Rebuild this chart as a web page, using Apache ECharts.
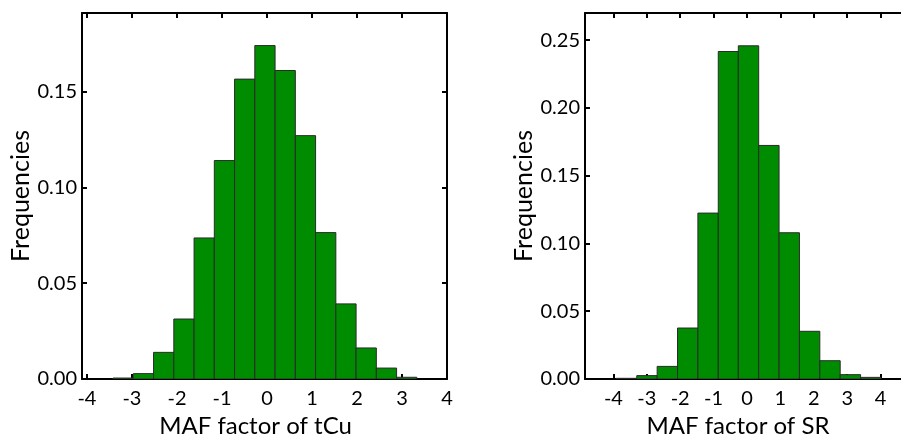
<!DOCTYPE html>
<html>
<head>
<meta charset="utf-8">
<script src="https://cdn.jsdelivr.net/npm/echarts@6/dist/echarts.min.js"></script>
<style>
  html, body { margin: 0; padding: 0; background: #fff; }
  #chart { width: 901px; height: 434px; }
</style>
</head>
<body>
<div id="chart"></div>
<script>
// Histogram of the tCu MAF factor: bin edges and relative frequencies
const tcuEdges = [-3.42, -2.97, -2.52, -2.07, -1.62, -1.17, -0.72, -0.27, 0.18, 0.63, 1.08, 1.53, 1.98, 2.43, 2.88, 3.33];
const tcuFreq = [0.0005, 0.0028, 0.0139, 0.0313, 0.0736, 0.114, 0.1565, 0.174, 0.161, 0.127, 0.0764, 0.0392, 0.0162, 0.0057, 0.0009];

// Histogram of the SR MAF factor
const srEdges = [-3.91, -3.30, -2.69, -2.08, -1.47, -0.86, -0.26, 0.35, 0.96, 1.57, 2.18, 2.79, 3.40, 4.01];
const srFreq = [0.0005, 0.0025, 0.0093, 0.0376, 0.1224, 0.2416, 0.2458, 0.1723, 0.1079, 0.0352, 0.0135, 0.0032, 0.0012];

// Axis ticks
const xTicks = [-4, -3, -2, -1, 0, 1, 2, 3, 4];
const tcuYTicks = [0, 0.05, 0.10, 0.15];
const srYTicks = [0, 0.05, 0.10, 0.15, 0.20, 0.25];

const FONT = 'Lato';
const GREEN = '#008c00';

function bins(edges, freq) {
  return freq.map((f, i) => [edges[i], edges[i + 1], f]);
}

function renderBin(params, api) {
  const a = api.coord([api.value(0), api.value(2)]);
  const b = api.coord([api.value(1), 0]);
  return {
    type: 'rect',
    shape: { x: a[0], y: a[1], width: b[0] - a[0], height: b[1] - a[1] },
    style: { fill: GREEN, stroke: '#2a2a2a', lineWidth: 1 }
  };
}

const axisLine = { show: true, onZero: false, lineStyle: { color: '#000', width: 2 } };
const tick = (vals) => ({ show: true, inside: true, length: 5, customValues: vals, lineStyle: { color: '#000', width: 2 } });

function xAxes(gridIndex, min, max, name) {
  return [
    {
      type: 'value', gridIndex, min, max, position: 'bottom',
      axisLine, axisTick: tick(xTicks), splitLine: { show: false },
      axisLabel: { customValues: xTicks, margin: 10, fontFamily: FONT, fontSize: 20, color: '#000' },
      name, nameLocation: 'middle', nameGap: 29,
      nameTextStyle: { fontFamily: FONT, fontSize: 24, color: '#000', padding: [0, 18, 0, 0] }
    },
    {
      type: 'value', gridIndex, min, max, position: 'top',
      axisLine, axisTick: tick(xTicks), splitLine: { show: false },
      axisLabel: { show: false }
    }
  ];
}

function yAxes(gridIndex, max, ticks) {
  return [
    {
      type: 'value', gridIndex, min: 0, max, position: 'left',
      axisLine, axisTick: tick(ticks), splitLine: { show: false },
      axisLabel: {
        customValues: ticks, margin: 5, fontFamily: FONT, fontSize: 20, color: '#000',
        formatter: (v) => v.toFixed(2)
      },
      name: 'Frequencies', nameLocation: 'middle', nameGap: 47,
      nameTextStyle: { fontFamily: FONT, fontSize: 25, color: '#000' }
    },
    {
      type: 'value', gridIndex, min: 0, max, position: 'right',
      axisLine, axisTick: tick(ticks), splitLine: { show: false },
      axisLabel: { show: false }
    }
  ];
}

const chart = echarts.init(document.getElementById('chart'), null, { renderer: 'canvas' });
chart.setOption({
  backgroundColor: '#fff',
  animation: false,
  grid: [
    { left: 82, top: 13, width: 365, height: 366, outerBoundsMode: 'none', containLabel: false },
    { left: 585, top: 13, width: 324, height: 366, outerBoundsMode: 'none', containLabel: false }
  ],
  xAxis: [
    ...xAxes(0, -4.11, 4, 'MAF factor of tCu'),
    ...xAxes(1, -4.85, 4.85, 'MAF factor of SR')
  ],
  yAxis: [
    ...yAxes(0, 0.191, tcuYTicks),
    ...yAxes(1, 0.27, srYTicks)
  ],
  series: [
    {
      type: 'custom', xAxisIndex: 0, yAxisIndex: 0,
      renderItem: renderBin, data: bins(tcuEdges, tcuFreq), clip: true
    },
    {
      type: 'custom', xAxisIndex: 2, yAxisIndex: 2,
      renderItem: renderBin, data: bins(srEdges, srFreq), clip: true
    }
  ]
});
</script>
</body>
</html>
